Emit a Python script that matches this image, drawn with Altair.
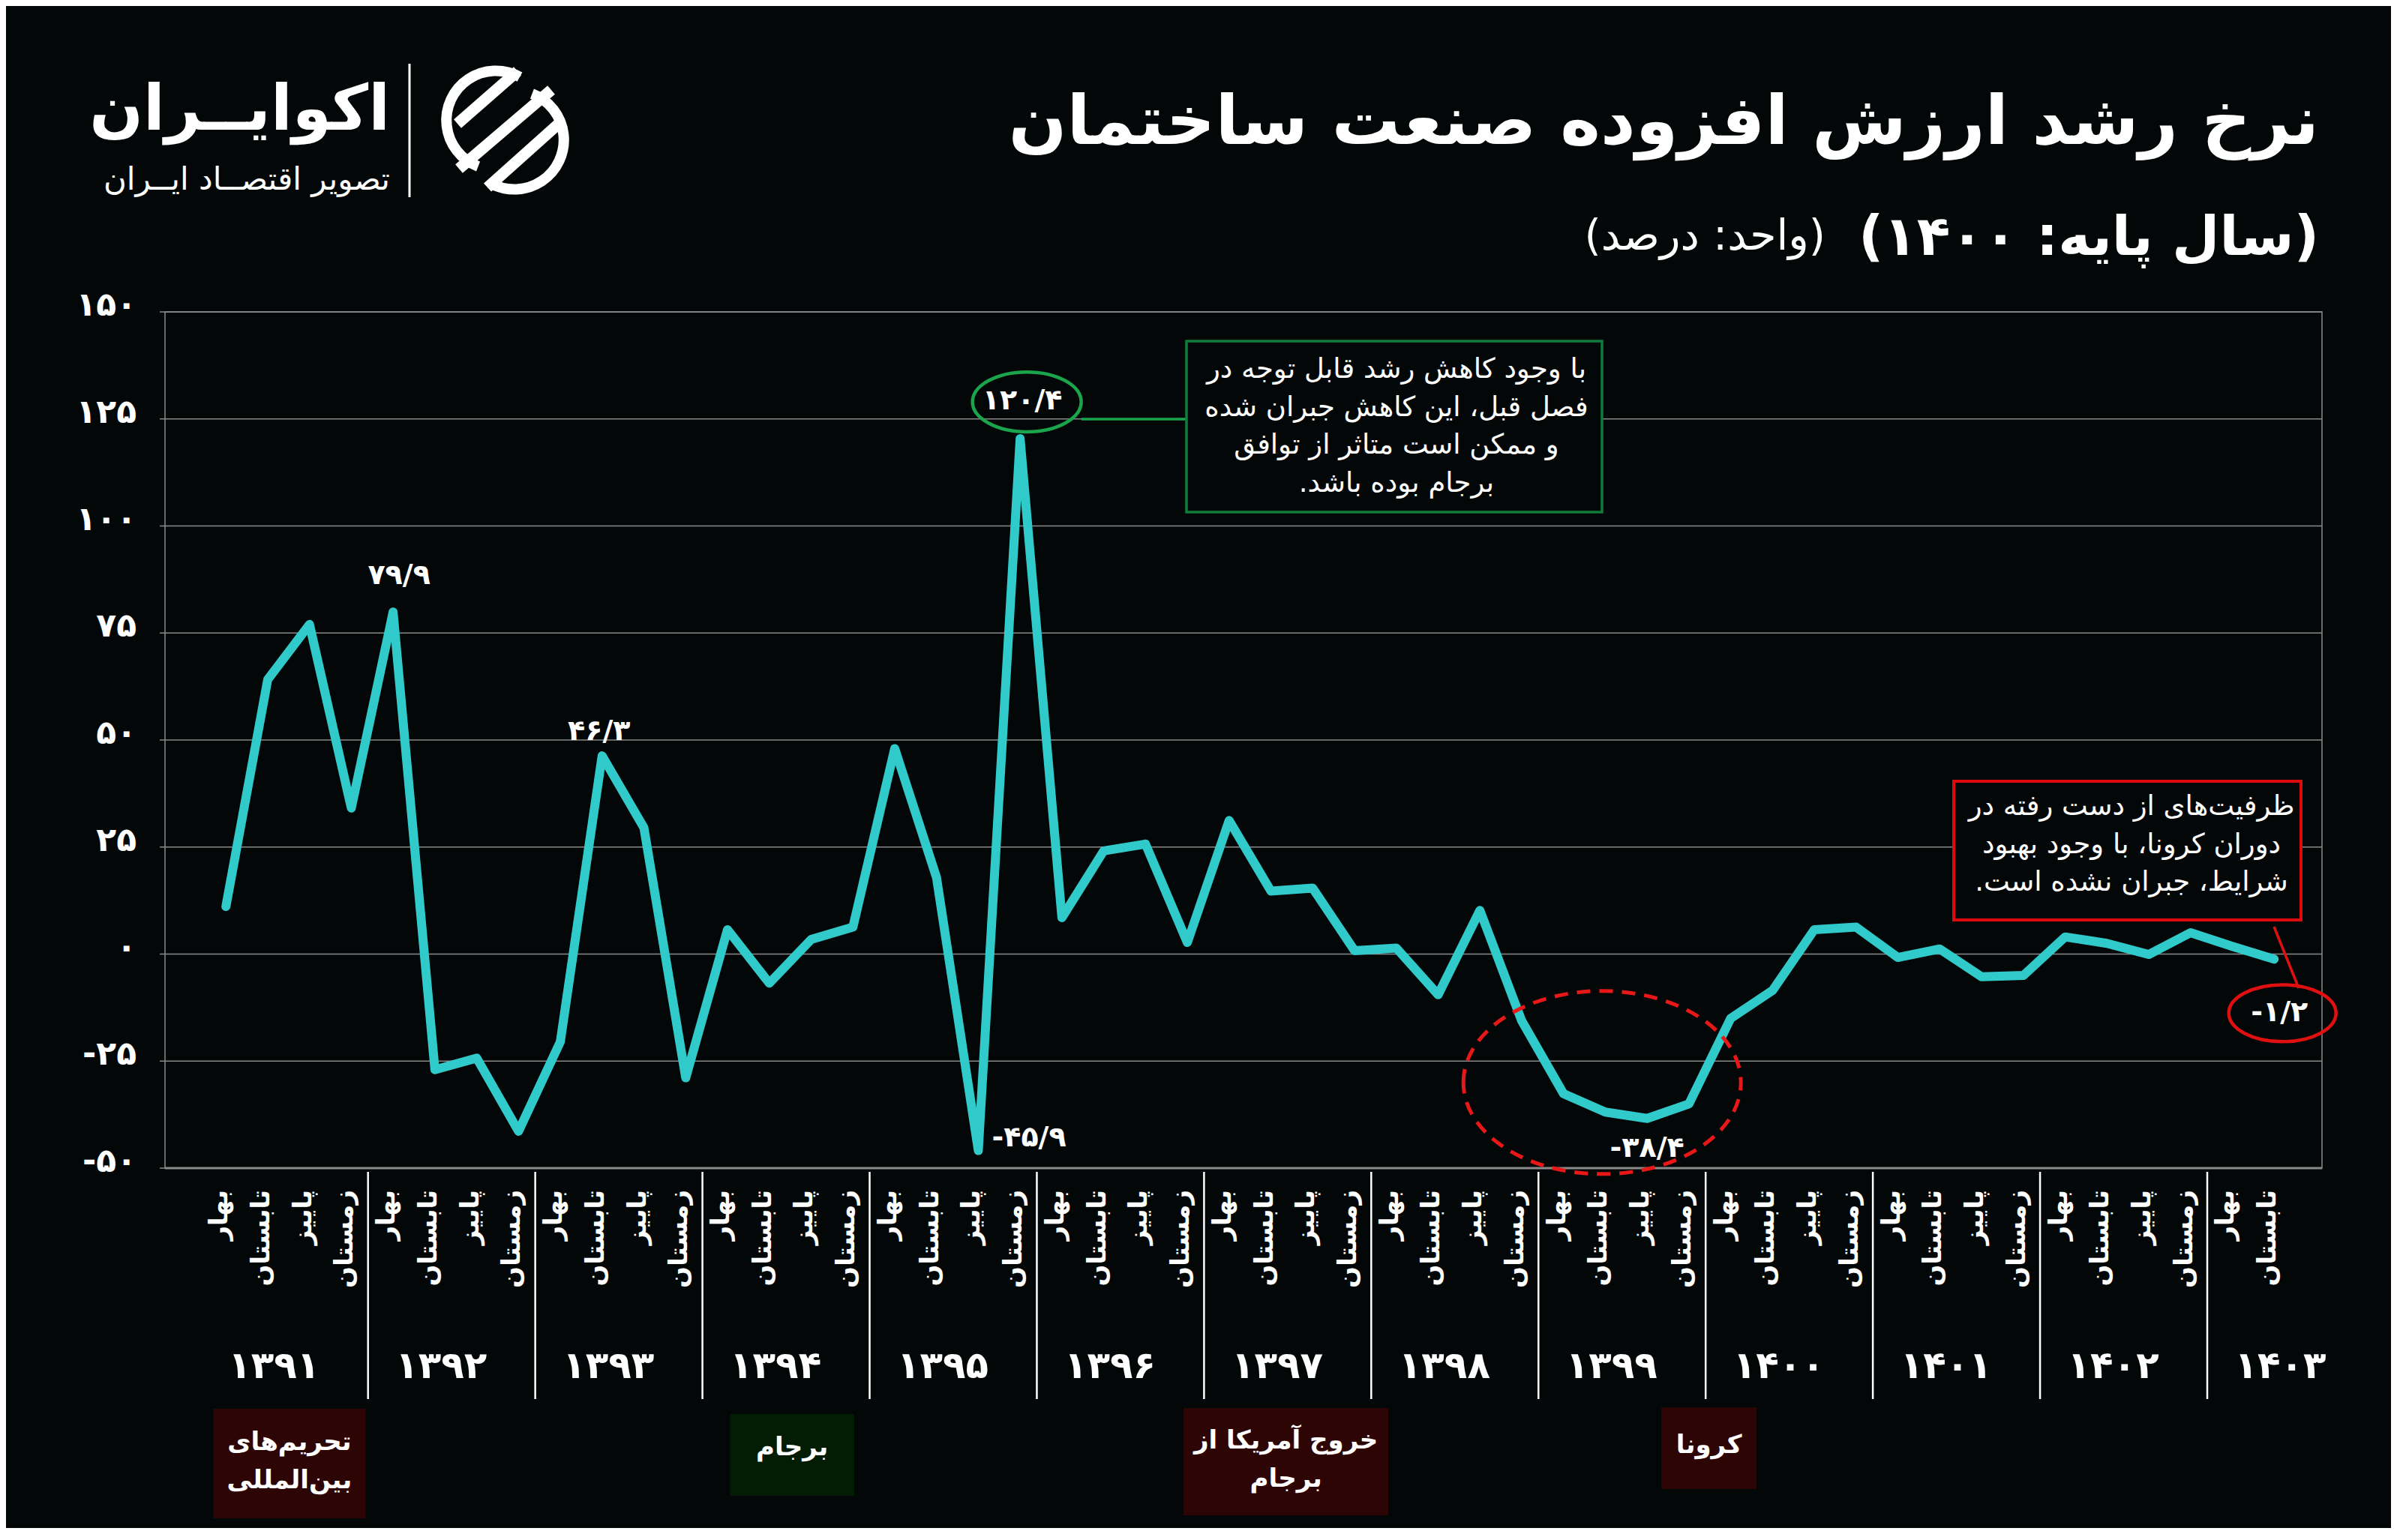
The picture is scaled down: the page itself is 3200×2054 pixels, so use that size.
import altair as alt
import pandas as pd

# ---------------- data ----------------
seasons = ["بهار", "تابستان", "پاییز", "زمستان"]
years = ["۱۳۹۱", "۱۳۹۲", "۱۳۹۳", "۱۳۹۴", "۱۳۹۵", "۱۳۹۶", "۱۳۹۷",
         "۱۳۹۸", "۱۳۹۹", "۱۴۰۰", "۱۴۰۱", "۱۴۰۲", "۱۴۰۳"]
quarters_per_year = [4] * 12 + [2]
growth = [11.1, 64.1, 77.0, 34.1,
          79.9, -27.0, -24.3, -41.4,
          -20.5, 46.3, 29.5, -28.9,
          5.7, -6.8, 3.4, 6.3,
          48.0, 17.9, -45.9, 120.4,
          8.5, 24.1, 25.7, 2.7,
          31.2, 14.7, 15.4, 0.8,
          1.4, -9.5, 10.2, -15.6,
          -32.6, -36.9, -38.4, -35.0,
          -15.0, -8.5, 5.7, 6.3,
          -0.8, 1.2, -5.3, -5.0,
          4.0, 2.5, -0.1, 5.0,
          1.8, -1.2]
y_ticks = [150, 125, 100, 75, 50, 25, 0, -25, -50]
labelled_points = [4, 9, 18, 19, 34, 49]

title_text = "نرخ رشد ارزش افزوده صنعت ساختمان"
subtitle_main = "(سال پایه: ۱۴۰۰)"
subtitle_unit = "(واحد: درصد)"
brand_name = "اکوایــران"
brand_tag = "تصویر اقتصــاد ایــران"
note_green = ["با وجود کاهش رشد قابل توجه در", "فصل قبل، این کاهش جبران شده",
              "و ممکن است متاثر از توافق", "برجام بوده باشد.\u200f"]
note_red = ["ظرفیت\u200cهای از دست رفته در", "دوران کرونا، با وجود بهبود",
            "شرایط، جبران نشده است.\u200f"]
event_names = ["تحریم\u200cهای\nبین\u200cالمللی", "برجام", "خروج آمریکا از\nبرجام", "کرونا"]
event_kind = ["red", "green", "red", "red"]

# ---------------- helpers ----------------
FA = str.maketrans("0123456789.", "۰۱۲۳۴۵۶۷۸۹/")


def fa(v):
    s = f"{abs(v):g}".translate(FA)
    return "-" + s if v < 0 else s


rows = []
i = 0
for yr, n in zip(years, quarters_per_year):
    for q in range(n):
        rows.append({"idx": i, "year": yr, "season": seasons[q], "value": growth[i]})
        i += 1
df = pd.DataFrame(rows)
df["label"] = df["value"].map(fa)

# ---------------- layout / style ----------------
FONT = "DejaVu Sans"
BG = "#030707"
LINE = "#31CACB"
GRID = "#8a8a8a"
W, H = 2876, 1142
XMIN, XMAX = -1.457, 50.145
STEP = W / (XMAX - XMIN)
YPX = H / 200.0

xs = alt.Scale(domain=[XMIN, XMAX], nice=False, zero=False)
ys = alt.Scale(domain=[-50, 150], nice=False, zero=False)


def X(field):
    return alt.X(field, type="quantitative", scale=xs, axis=None)


def Y(field):
    return alt.Y(field, type="quantitative", scale=ys, axis=None)


def one():
    return alt.Chart(pd.DataFrame({"a": [0]}))


layers = []

# gridlines + tick stubs
ticks_df = pd.DataFrame({"v": y_ticks, "lab": [fa(v) for v in y_ticks]})
layers.append(alt.Chart(ticks_df).mark_rule(color=GRID, strokeWidth=1.5).encode(
    y=Y("v"), x=alt.value(-7), x2=alt.value(W)))
layers.append(alt.Chart(ticks_df).mark_text(
    font=FONT, fontSize=44, fontWeight="bold", color="white", align="right", baseline="middle", dy=-8
).encode(y=Y("v"), x=alt.value(-38), text="lab:N"))
# bottom axis line
layers.append(alt.Chart(ticks_df[ticks_df["v"] == -50]).mark_rule(color=GRID, strokeWidth=3).encode(
    y=Y("v"), x=alt.value(0), x2=alt.value(W)))

# the series
layers.append(alt.Chart(df).mark_line(
    color=LINE, strokeWidth=12, strokeJoin="round", strokeCap="round"
).encode(x=X("idx"), y=Y("value")))

# value labels
label_style = {4: (8, -48, "center"), 9: (-4, -32, "center"), 18: (18, -17, "left"),
               19: (3, -50, "center"), 34: (0, 40, "center"), 49: (7, 72, "center")}
for k in labelled_points:
    dx, dy, al = label_style[k]
    layers.append(alt.Chart(df).transform_filter(alt.datum.idx == k).mark_text(
        font=FONT, fontSize=38, fontWeight="bold", color="white", align=al,
        baseline="middle", dx=dx, dy=dy
    ).encode(x=X("idx"), y=Y("value"), text="label:N"))


# ellipses around highlighted labels / the Covid dip
def ellipse(k, dx, dy, w, ratio, color, sw, dash=None):
    shape = f"M-1,0A1,{ratio},0,1,1,1,0A1,{ratio},0,1,1,-1,0Z"
    kw = dict(shape=shape, size=w * w, filled=False, color=color, strokeWidth=sw, opacity=1)
    if dash:
        kw["strokeDash"] = dash
    return alt.Chart(df).transform_filter(alt.datum.idx == k).transform_calculate(
        ex=f"datum.idx + {dx / STEP}", ey=f"datum.value - {dy / YPX}"
    ).mark_point(**kw).encode(x=X("ex"), y=Y("ey"))


layers.append(ellipse(19, 9, -49, 145, 0.55, "#1aa44c", 4.5))
layers.append(ellipse(49, 11, 72, 143, 0.53, "#e01010", 4.5))
layers.append(ellipse(34, -60, -48, 370, 0.66, "#e81818", 5, [18, 12]))

# green note: connector, box, text
layers.append(one().mark_rule(color="#1aa44c", strokeWidth=3.5).encode(
    x=alt.value(1222), x2=alt.value(1362), y=alt.value(143)))
layers.append(one().mark_rect(fill=BG, stroke="#0f7d3b", strokeWidth=3.5).encode(
    x=alt.value(1362), x2=alt.value(1916), y=alt.value(39), y2=alt.value(267)))
layers.append(one().mark_text(
    font=FONT, fontSize=37, color="white", align="center", baseline="middle",
    lineBreak="\n", lineHeight=50.5
).encode(x=alt.value(1642), y=alt.value(77), text=alt.value("\n".join(note_green))))

# red note: connector, box, text
layers.append(one().mark_rule(color="#e01010", strokeWidth=3.5).encode(
    x=alt.value(2812), x2=alt.value(2845), y=alt.value(820), y2=alt.value(902)))
layers.append(one().mark_rect(fill=BG, stroke="#dd0b0b", strokeWidth=4).encode(
    x=alt.value(2385), x2=alt.value(2848), y=alt.value(626), y2=alt.value(811)))
layers.append(one().mark_text(
    font=FONT, fontSize=37, color="white", align="center", baseline="middle",
    lineBreak="\n", lineHeight=50.5
).encode(x=alt.value(2622), y=alt.value(660), text=alt.value("\n".join(note_red))))

# x axis: seasons (rotated), year separators, year labels
layers.append(alt.Chart(df).mark_text(
    font=FONT, fontSize=34, fontWeight="bold", color="white", angle=270,
    align="right", baseline="middle", dy=-8
).encode(x=X("idx"), y=alt.value(1171), text="season:N"))

starts = []
s = 0
for n in quarters_per_year:
    starts.append(s)
    s += n
years_df = pd.DataFrame({"year": years, "start": starts})
years_df["lx"] = years_df["start"] + 1.15
years_df["sep"] = years_df["start"] - 0.6
layers.append(alt.Chart(years_df).mark_text(
    font=FONT, fontSize=50, fontWeight="bold", color="white", align="center", baseline="middle"
).encode(x=X("lx"), y=alt.value(1407), text="year:N"))
layers.append(alt.Chart(years_df[years_df["start"] > 0]).mark_rule(
    color="white", strokeWidth=2.5
).encode(x=X("sep"), y=alt.value(1147), y2=alt.value(1450)))

# event boxes under the axis
ev_x0 = [-0.3, 12.06, 22.91, 34.34]
ev_x1 = [3.34, 15.03, 27.81, 36.62]
ev_py = [(1463, 1609, 1508), (1470, 1579, 1515), (1462, 1605, 1506), (1461, 1570, 1512)]
box_fill = {"red": "#2e0505", "green": "#021d04"}
for name, kind, a, b, (p0, p1, ty) in zip(event_names, event_kind, ev_x0, ev_x1, ev_py):
    edf = pd.DataFrame({"x0": [a], "x1": [b], "xm": [(a + b) / 2], "name": [name]})
    layers.append(alt.Chart(edf).mark_rect(fill=box_fill[kind]).encode(
        x=X("x0"), x2="x1", y=alt.value(p0), y2=alt.value(p1)))
    layers.append(alt.Chart(edf).mark_text(
        font=FONT, fontSize=34, fontWeight="bold", color="white", align="center",
        baseline="middle", lineBreak="\n", lineHeight=51
    ).encode(x=X("xm"), y=alt.value(ty), text="name:N"))

# titles
layers.append(one().mark_text(
    font=FONT, fontSize=91, fontWeight="bold", color="white", align="right", baseline="middle"
).encode(x=alt.value(2872), y=alt.value(-251), text=alt.value(title_text)))
layers.append(one().mark_text(
    font=FONT, fontSize=73, fontWeight="bold", color="white", align="right", baseline="middle"
).encode(x=alt.value(2872), y=alt.value(-98), text=alt.value(subtitle_main)))
layers.append(one().mark_text(
    font=FONT, fontSize=57, color="white", align="right", baseline="middle"
).encode(x=alt.value(2214), y=alt.value(-100), text=alt.value(subtitle_unit)))

# brand block (top-left)
layers.append(one().mark_text(
    font=FONT, fontSize=84, fontWeight="bold", color="white", align="right", baseline="middle"
).encode(x=alt.value(300), y=alt.value(-268), text=alt.value(brand_name)))
layers.append(one().mark_text(
    font=FONT, fontSize=42, color="white", align="right", baseline="middle"
).encode(x=alt.value(300), y=alt.value(-176), text=alt.value(brand_tag)))
layers.append(one().mark_rule(color="white", strokeWidth=3).encode(
    x=alt.value(326), y=alt.value(-331), y2=alt.value(-153)))
# logo glyph: two open rings and three diagonal stripes
ring_left = "M0.5,-0.87A1,1,0,1,0,-0.34,0.94"
ring_right = "M-0.5,0.87A1,1,0,1,0,0.34,-0.94"
for shp, px, py in [(ring_left, 440, -256), (ring_right, 467, -229)]:
    layers.append(one().mark_point(shape=shp, size=4 * 66 * 66, filled=False, color="white",
                                   strokeWidth=14, opacity=1).encode(
        x=alt.value(px), y=alt.value(py)))
for (xa, ya, xb, yb) in [(390, -251, 470, -321), (392, -191, 515, -296), (430, -166, 525, -251)]:
    layers.append(one().mark_rule(color="white", strokeWidth=15).encode(
        x=alt.value(xa), y=alt.value(ya), x2=alt.value(xb), y2=alt.value(yb)))

chart = alt.layer(*layers).properties(
    width=W, height=H,
    padding={"left": 212, "top": 408, "right": 92, "bottom": 480},
    autosize=alt.AutoSizeParams(type="none"),
    background=BG,
).configure_view(stroke=GRID, strokeWidth=1.5)

chart.save("out.html", embed_options={"renderer": "svg", "actions": False})
